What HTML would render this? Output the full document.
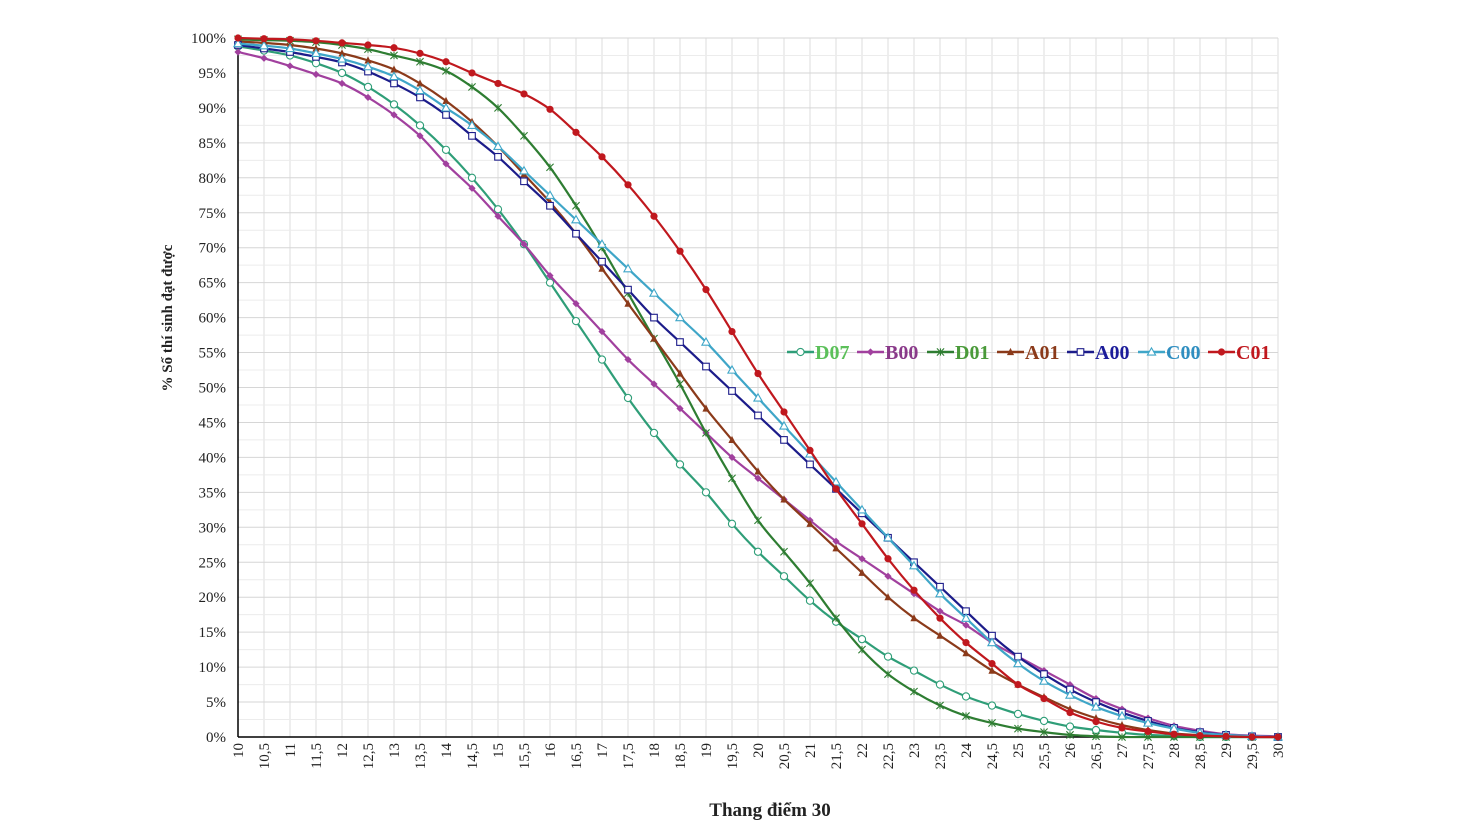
<!DOCTYPE html>
<html><head><meta charset="utf-8"><style>
html,body{margin:0;padding:0;background:#fff;}
svg{display:block;font-family:"Liberation Serif",serif;}
</style></head><body>
<svg id="chart" width="1466" height="831" viewBox="0 0 1466 831"></svg>
<script>
const xs = [];
for (let i = 0; i <= 40; i++) xs.push(10 + i * 0.5);
const xTickLabels = ["10","10,5","11","11,5","12","12,5","13","13,5","14","14,5","15","15,5","16","16,5","17","17,5","18","18,5","19","19,5","20","20,5","21","21,5","22","22,5","23","23,5","24","24,5","25","25,5","26","26,5","27","27,5","28","28,5","29","29,5","30"];
const yTicks = [0,5,10,15,20,25,30,35,40,45,50,55,60,65,70,75,80,85,90,95,100];
const seriesNames = ["D07","B00","D01","A01","A00","C00","C01"];
const D07 = [98.8,98.2,97.5,96.4,95,93,90.5,87.5,84,80,75.5,70.5,65,59.5,54,48.5,43.5,39,35,30.5,26.5,23,19.5,16.5,14,11.5,9.5,7.5,5.8,4.5,3.3,2.3,1.5,1,0.6,0.3,0.15,0,0,0,0];
const B00 = [98,97.1,96,94.8,93.5,91.5,89,86,82,78.5,74.5,70.5,66,62,58,54,50.5,47,43.5,40,37,34,31,28,25.5,23,20.5,18,16,13.5,11.5,9.5,7.5,5.5,4,2.7,1.6,0.9,0.4,0.2,0.1];
const D01 = [99.8,99.7,99.6,99.4,99,98.4,97.5,96.6,95.3,93,90,86,81.5,76,70,63.5,57,50.5,43.5,37,31,26.5,22,17,12.5,9,6.5,4.5,3,2,1.2,0.7,0.3,0.1,0,0,0,0,0,0,0];
const A01 = [99.5,99.3,99,98.5,97.8,96.8,95.5,93.5,91,88,84.5,80.5,76.5,72,67,62,57,52,47,42.5,38,34,30.5,27,23.5,20,17,14.5,12,9.5,7.5,5.7,4,2.7,1.7,1,0.5,0.25,0.1,0,0];
const A00 = [99,98.5,98,97.3,96.5,95.2,93.5,91.5,89,86,83,79.5,76,72,68,64,60,56.5,53,49.5,46,42.5,39,35.5,32,28.5,25,21.5,18,14.5,11.5,9,6.8,5,3.5,2.3,1.3,0.7,0.3,0.1,0];
const C00 = [99.2,98.9,98.5,97.8,97,95.9,94.5,92.5,90,87.5,84.5,81,77.5,74,70.5,67,63.5,60,56.5,52.5,48.5,44.5,40.5,36.5,32.5,28.5,24.5,20.5,17,13.5,10.5,8,6,4.3,3,2,1.2,0.6,0.3,0.1,0];
const C01 = [100,99.9,99.8,99.6,99.3,99,98.6,97.8,96.6,95,93.5,92,89.8,86.5,83,79,74.5,69.5,64,58,52,46.5,41,35.5,30.5,25.5,21,17,13.5,10.5,7.5,5.5,3.5,2.2,1.3,0.8,0.4,0.2,0.1,0,0];
const seriesValues = [D07,B00,D01,A01,A00,C00,C01];
const lineColors = ["#2f9e78","#a1409e","#2e7d32","#8b3a1a","#1c1c8a","#3fa6c8","#c0181e"];
const textColors = ["#5cc05a","#8a3a8a","#4a9a3a","#8b3a1a","#1c1c9a","#2f8ec0","#c0181e"];
const markers = ["circle","diamond","star","triangleF","square","triangle","dot"];

const L=238,R=1278,T=38,B=737;
const xScale = v => L + (v-10)/20*(R-L);
const yScale = v => B - v/100*(B-T);
const svg = document.getElementById('chart');
const NS = "http://www.w3.org/2000/svg";
function mk(tag, attrs, parent){const e=document.createElementNS(NS,tag);for(const k in attrs)e.setAttribute(k,attrs[k]);(parent||svg).appendChild(e);return e;}

// grid
const grid = mk('g',{});


xs.forEach(v=>{mk('line',{x1:xScale(v),x2:xScale(v),y1:T,y2:B,stroke:"#dcdcdc","stroke-width":1},grid);});
for(let p=0;p<=100;p+=2.5){mk('line',{x1:L,x2:R,y1:yScale(p),y2:yScale(p),stroke:p%5===0?"#d6d6d6":"#ececec","stroke-width":1},grid);}
// axes
const ax = mk('line',{x1:L,x2:L,y1:T,y2:B,stroke:"#000","stroke-width":1.5});


const axx = mk('line',{x1:L,x2:R,y1:B,y2:B,stroke:"#000","stroke-width":1.5});



// y ticks
yTicks.forEach(p=>{
  const t = mk('text',{x:226,y:yScale(p)+5,"text-anchor":"end","font-size":15,fill:"#222"});
  
  
  t.textContent = p+"%";
});
// x ticks
xs.forEach((v,i)=>{
  const x = xScale(v);
  const t = mk('text',{x:0,y:0,"text-anchor":"end","font-size":15,fill:"#222",transform:`translate(${x+5},${743}) rotate(-90)`});
  
  
  t.textContent = xTickLabels[i];
});
// titles
const xt = mk('text',{x:770,y:816,"text-anchor":"middle","font-size":19,"font-weight":"bold",fill:"#222"});


xt.textContent = "Thang điểm 30";
const yt = mk('text',{x:0,y:0,"text-anchor":"middle","font-size":15,"font-weight":"bold",fill:"#222",transform:"translate(172,318) rotate(-90)"});


yt.textContent = "% Số thí sinh đạt được";

function marker(type,x,y,color,parent){
  const s=3.6;
  switch(type){
    case "circle": return mk('circle',{cx:x,cy:y,r:3.6,fill:"#fff",stroke:color,"stroke-width":1.1},parent);
    case "diamond": return mk('polygon',{points:`${x},${y-s} ${x+s},${y} ${x},${y+s} ${x-s},${y}`,fill:color},parent);
    case "star": return mk('path',{d:`M${x-s},${y-s}L${x+s},${y+s}M${x-s},${y+s}L${x+s},${y-s}M${x},${y-s}L${x},${y+s}`,stroke:color,"stroke-width":1.1,fill:"none"},parent);
    case "triangleF": return mk('polygon',{points:`${x},${y-s-0.5} ${x+s},${y+s-0.5} ${x-s},${y+s-0.5}`,fill:color},parent);
    case "square": return mk('rect',{x:x-3.3,y:y-3.3,width:6.6,height:6.6,fill:"#fff",stroke:color,"stroke-width":1.1},parent);
    case "triangle": return mk('polygon',{points:`${x},${y-s-0.5} ${x+s+0.5},${y+s-0.5} ${x-s-0.5},${y+s-0.5}`,fill:"#fff",stroke:color,"stroke-width":1.1},parent);
    case "dot": return mk('circle',{cx:x,cy:y,r:3.6,fill:color},parent);
  }
}

seriesValues.forEach((vals,si)=>{
  const g = mk('g',{});
  
  
  const pts = vals.map((v,i)=>[xScale(xs[i]),yScale(v)]);
  let d = `M${pts[0][0]},${pts[0][1]}`;
  for(let i=0;i<pts.length-1;i++){
    const p0=pts[Math.max(0,i-1)],p1=pts[i],p2=pts[i+1],p3=pts[Math.min(pts.length-1,i+2)];
    const c1x=p1[0]+(p2[0]-p0[0])/6,c1y=p1[1]+(p2[1]-p0[1])/6;
    const c2x=p2[0]-(p3[0]-p1[0])/6,c2y=p2[1]-(p3[1]-p1[1])/6;
    d+=`C${c1x},${c1y} ${c2x},${c2y} ${p2[0]},${p2[1]}`;
  }
  const path = mk('path',{d:d,fill:"none",stroke:lineColors[si],"stroke-width":2.2},g);
  
  
  pts.forEach(p=>{
    const m = marker(markers[si],p[0],p[1],lineColors[si],g);
    
    
  });
});

// legend
const legX = [787,857,927,997,1067,1138,1208];
const lg = mk('g',{});


seriesNames.forEach((n,si)=>{
  const e = mk('g',{},lg);
  
  
  const x=legX[si], y=352;
  mk('line',{x1:x,x2:x+27,y1:y,y2:y,stroke:lineColors[si],"stroke-width":2.5},e);
  marker(markers[si],x+13.5,y,lineColors[si],e);
  const t = mk('text',{x:x+28,y:y+7,"font-size":20,"font-weight":"bold",fill:textColors[si]},e);
  t.textContent = n;
});
</script>
</body></html>
